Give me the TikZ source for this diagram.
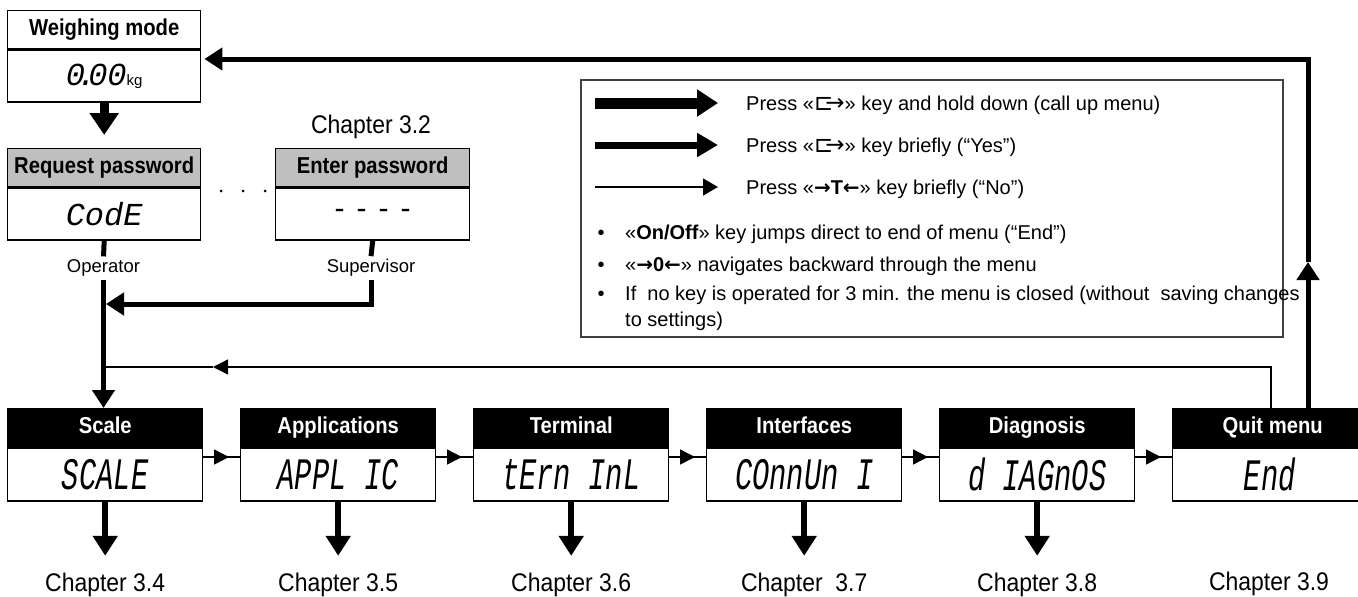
\documentclass[tikz,border=0pt]{standalone}
\usepackage{fontspec}
\setmainfont{Liberation Sans}
\newfontfamily\hdrfont{Liberation Sans}[FakeStretch=0.88]
\newfontfamily\chapfont{Liberation Sans}[FakeStretch=0.9]
\newfontfamily\dejavu{DejaVu Sans}
\newfontfamily\lcdA{Liberation Mono}
\newfontfamily\lcdB{Liberation Mono}[FakeStretch=0.64]
\newcommand\keysym{{\dejavu\fontsize{23}{23}\selectfont ⊏\kern-.34em→}}
\newcommand\bra{{\dejavu\bfseries\fontsize{20}{20}\selectfont →}}
\newcommand\ket{{\dejavu\bfseries\fontsize{20}{20}\selectfont ←}}
\usetikzlibrary{arrows.meta,decorations.markings}
\begin{document}
\begin{tikzpicture}[x=1pt,y=-1pt,
  box/.style={draw=black, line width=1.4pt, inner sep=0pt, anchor=north west},
  hwhite/.style={box, minimum height=38pt, font=\hdrfont\bfseries\fontsize{23}{23}\selectfont,
    text height=16pt, text depth=4pt, fill=white},
  hgray/.style={hwhite, fill=gray!50},
  hblack/.style={hwhite, fill=black, text=white},
  valA/.style={box, minimum height=52pt, font=\lcdA\itshape\fontsize{32}{32}\selectfont},
  valB/.style={box, minimum height=53pt, font=\lcdB\itshape\fontsize{45}{45}\selectfont},
  chap/.style={inner sep=0pt, anchor=base, font=\chapfont\fontsize{25.5}{26}\selectfont},
  role/.style={inner sep=3pt, font=\fontsize{18.5}{20}\selectfont},
  legtext/.style={inner sep=0pt, font=\fontsize{20}{24}\selectfont},
  bigarrow/.style={line width=9pt, -{Triangle[length=22pt,width=28pt]}},
  medline/.style={line width=5pt},
  medarrow/.style={line width=5pt, -{Triangle[length=18pt,width=22pt]}},
  chaparrow/.style={line width=6.5pt, -{Triangle[length=20pt,width=24pt]}},
  thinline/.style={line width=1.3pt},
  thinarrow/.style={line width=1.3pt, -{Triangle[length=15pt,width=15pt]}},
  rowconn/.style={line width=1.3pt, postaction={decorate},
    decoration={markings, mark=at position 0.7 with {\arrow{Triangle[length=15pt,width=15pt]}}}},
  legA/.style={line width=11pt, -{Triangle[length=21pt,width=26pt]}},
  legB/.style={line width=7pt, -{Triangle[length=21pt,width=23pt]}},
  legC/.style={line width=1.3pt, -{Triangle[length=15pt,width=17pt]}}
]
\useasboundingbox (0,0) rectangle (1358,597);

% top-left boxes
\node[hwhite, minimum width=193pt] (wmh) at (7,10) {Weighing mode};
\node[valA, minimum width=193pt] (wmv) at (wmh.south west)
  {0\kern-8pt.\kern-8pt00{\normalfont\fontsize{15}{15}\selectfont kg}};
\node[hgray, minimum width=193pt] (rph) at (7,148) {Request password};
\node[valA, minimum width=193pt] (rpv) at (rph.south west) {CodE};
\node[hgray, minimum width=194pt] (eph) at (275,148) {Enter password};
\node[valA, minimum width=194pt, font=\fontsize{30}{30}\selectfont] (epv) at (eph.south west)
  {-\hspace{12pt}-\hspace{12pt}-\hspace{12pt}-};
\node[chap] (c32) at (371,133) {Chapter 3.2};

\fill (221,191) circle (1.5pt) (243,191) circle (1.5pt) (265,191) circle (1.5pt);

\draw[bigarrow] (wmv.south) -- ([yshift=13pt]rph.north);

\node[role] (op) at (103.5,268) {Operator};
\node[role] (sup) at (371,268) {Supervisor};

% bottom row
\foreach \i/\hd/\val/\ch in {1/Scale/SCALE/{Chapter 3.4},
                             2/Applications/{APPL IC}/{Chapter 3.5},
                             3/Terminal/{tErn InL}/{Chapter 3.6},
                             4/Interfaces/{COnnUn I}/{Chapter\ \ 3.7},
                             5/Diagnosis/{d IAGnOS}/{Chapter 3.8}}{
  \pgfmathsetmacro\bx{7+233*(\i-1)}
  \node[hblack, minimum width=195pt] (h\i) at (\bx,408) {\hd};
  \node[valB, minimum width=195pt] (v\i) at (h\i.south west) {\val};
  \node[chap] (c\i) at ([yshift=-90pt]v\i.south) {\ch};
  \draw[chaparrow] (v\i.south) -- ([yshift=36pt]c\i.base);
}
\node[hblack, minimum width=186pt] (h6) at (1172,408) {\hspace*{14pt}Quit menu};
\node[valB, minimum width=186pt] (v6) at (h6.south west) {\hspace*{8pt}End};
\node[chap] (c6) at (1269,590) {Chapter 3.9};

\coordinate (rowlvl) at (0,457);
\foreach \i/\j in {1/2,2/3,3/4,4/5,5/6}{
  \draw[rowconn] (v\i.east |- rowlvl) -- (v\j.west |- rowlvl);
}

% operator / supervisor paths
\draw[medline] (rpv.south) -- (op.north);
\draw[medarrow] (op.south) -- (op.south |- h1.north);
\draw[medline] (epv.south) -- (sup.north);
\coordinate (supend) at (106,304);
\draw[medarrow] (sup.south) |- (supend);

% thin return (No)
\coordinate (retA) at (1271,367);
\coordinate (retTip) at (213,367);
\draw[thinarrow] (h6.north -| retA) |- (retTip);
\draw[thinline] (retTip) -- (op.south |- retTip);

% thick return (quit to weighing mode)
\coordinate (upTip) at (1308,262);
\coordinate (topA) at (1308,59);
\draw[medarrow] (h6.north -| upTip) -- (upTip);
\draw[medarrow] (upTip) -- (topA) -- ([xshift=3pt]wmv.east |- topA);

% legend
\draw[line width=1.8pt, draw=black!75] (581,80) rectangle (1283,337);
\coordinate (la1) at (595,103); \coordinate (lb1) at (718,103);
\coordinate (la2) at (595,145); \coordinate (lb2) at (718,145);
\coordinate (la3) at (595,187); \coordinate (lb3) at (718,187);
\draw[legA] (la1) -- (lb1);
\draw[legB] (la2) -- (lb2);
\draw[legC] (la3) -- (lb3);
\node[legtext, anchor=base west] (t1) at (746,110) {Press «\keysym» key and hold down (call up menu)};
\node[legtext, anchor=base west] (t2) at (746,152) {Press «\keysym» key briefly (“Yes”)};
\node[legtext, anchor=base west] (t3) at (746,194) {Press «\bra\textbf{T}\ket» key briefly (“No”)};
\node[legtext, anchor=base] (b1) at (601,239) {•};
\node[legtext, anchor=base] (b2) at (601,271) {•};
\node[legtext, anchor=base] (b3) at (601,300) {•};
\node[legtext, anchor=base west] (t4) at (625,239) {«\textbf{On/Off}» key jumps direct to end of menu (“End”)};
\node[legtext, anchor=base west] (t5) at (625,271) {«\bra\textbf{0}\ket» navigates backward through the menu};
\node[legtext, anchor=base west] (t6) at (625,300) {If\ \ no key is operated for 3 min. the menu is closed (without\ \ saving changes};
\node[legtext, anchor=base west] (t7) at (625,326) {to settings)};
\end{tikzpicture}
\end{document}
